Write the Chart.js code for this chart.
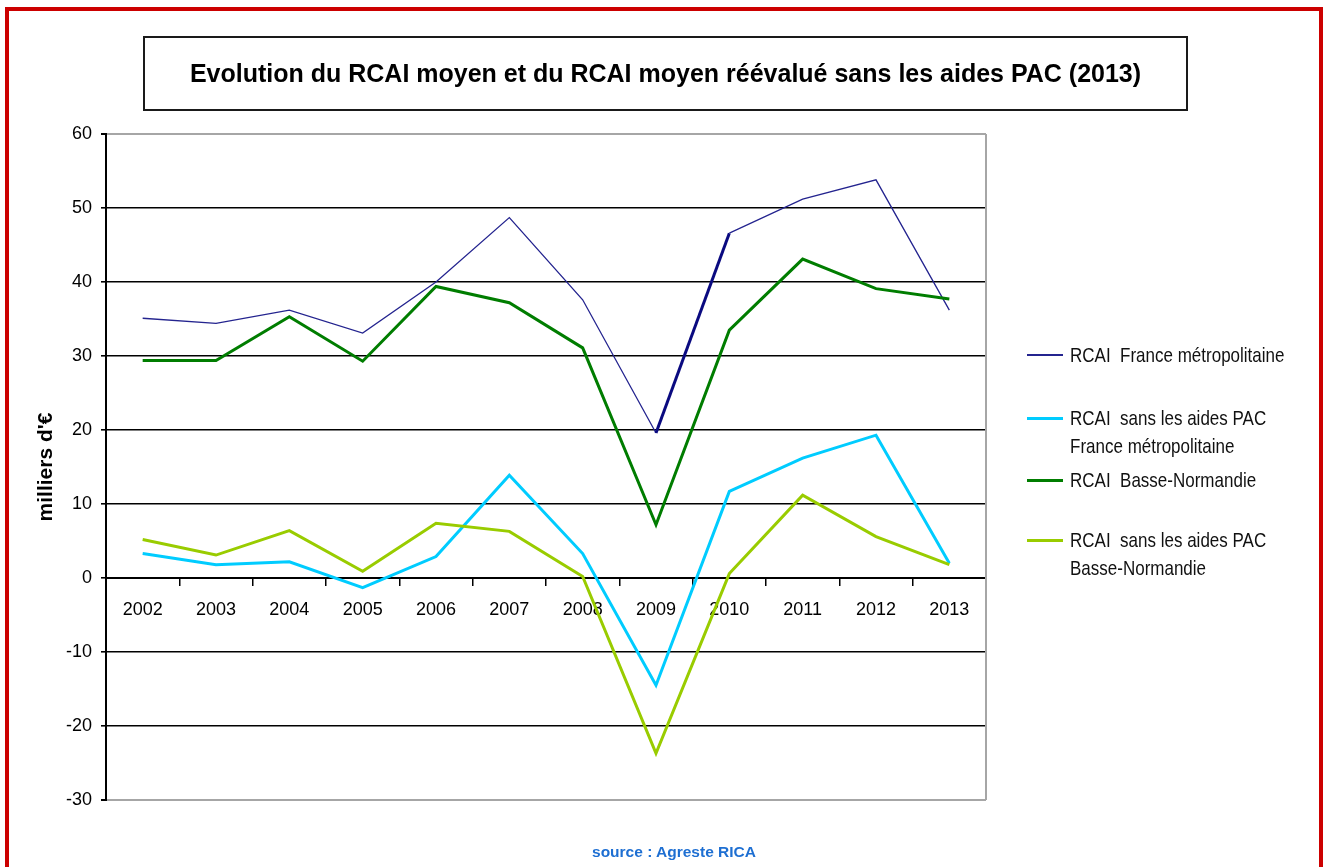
<!DOCTYPE html>
<html><head><meta charset="utf-8">
<script src="https://cdn.jsdelivr.net/npm/chart.js@4/dist/chart.umd.min.js"></script>
<style>
html,body{margin:0;padding:0;background:#fff;overflow:hidden;width:1324px;height:867px;}
#frame{position:absolute;left:5px;top:7px;width:1318px;height:900px;border:4px solid #cc0000;box-sizing:border-box;}
#c{position:absolute;left:0;top:0;}
#title{position:absolute;left:143px;top:36px;width:1045px;height:75px;border:2px solid #1a1a1a;box-sizing:border-box;display:flex;align-items:center;justify-content:center;font:bold 25px 'Liberation Sans',Arial,sans-serif;color:#000;}
.entry{position:absolute;left:1027px;font:17px 'Liberation Sans',Arial,sans-serif;line-height:28px;color:#111;white-space:nowrap;}
.entry .sw{position:absolute;left:0;top:14px;width:36px;}
.entry .tx{position:absolute;left:43px;top:0;transform:scaleY(1.15);transform-origin:0 14px;line-height:25px;}
#source{position:absolute;left:574px;top:843px;width:200px;text-align:center;font:bold 15.5px 'Liberation Sans',Arial,sans-serif;color:#1e6fd2;}
</style></head>
<body>
<div id="frame"></div>
<canvas id="c" width="1324" height="867"></canvas>
<div id="title">Evolution du RCAI moyen et du RCAI moyen réévalué sans les aides PAC (2013)</div>
<div id="legend"></div>
<div id="source">source : Agreste RICA</div>
<script>
const years = ['2002','2003','2004','2005','2006','2007','2008','2009','2010','2011','2012','2013'];
const rcaiFrance        = [35.1, 34.4, 36.2, 33.1, 40.0, 48.7, 37.6, 19.6, 46.6, 51.2, 53.8, 36.2];
const rcaiSansPacFrance = [3.3, 1.8, 2.2, -1.3, 2.9, 13.9, 3.3, -14.5, 11.7, 16.2, 19.3, 2.0];
const rcaiBasseNormandie = [29.4, 29.4, 35.3, 29.3, 39.4, 37.2, 31.1, 7.2, 33.5, 43.1, 39.1, 37.7];
const rcaiSansPacBasseNormandie = [5.2, 3.1, 6.4, 0.9, 7.4, 6.3, 0.2, -23.7, 0.6, 11.2, 5.6, 1.8];
const seriesNames = [
  ['RCAI  France métropolitaine'],
  ['RCAI  sans les aides PAC', 'France métropolitaine'],
  ['RCAI  Basse-Normandie'],
  ['RCAI  sans les aides PAC', 'Basse-Normandie']
];
const yMin = -30, yMax = 60, yStep = 10;
const yTitle = "milliers d'€";

const seriesData = [rcaiFrance, rcaiSansPacFrance, rcaiBasseNormandie, rcaiSansPacBasseNormandie];
const colors = ['#24248f', '#00ccff', '#007d00', '#99cc00'];
const widths = [1.3, 3, 3, 3];
const legendTops = [341, 404, 466, 526];
const legendSwatchW = [2, 3, 3, 3];

const tickFont = {family: "'Liberation Sans',Arial,sans-serif", size: 18};

const datasets = seriesData.map((d, i) => {
  const ds = {
    label: seriesNames[i].join(' '),
    data: d,
    borderColor: colors[i],
    borderWidth: widths[i],
    pointRadius: 0,
    tension: 0,
    fill: false,
    order: 4 - i
  };
  if (i === 0) {
    ds.segment = {
      borderWidth: ctx => (ctx.p0DataIndex === 7 ? 3 : undefined),
      borderColor: ctx => (ctx.p0DataIndex === 7 ? '#0a0a80' : undefined)
    };
  }
  return ds;
});

const rightBorder = {
  id: 'rightBorder',
  beforeDatasetsDraw(chart) {
    const {ctx, chartArea: a} = chart;
    ctx.save();
    ctx.strokeStyle = '#a6a6a6';
    ctx.lineWidth = 2;
    ctx.beginPath();
    ctx.moveTo(a.right, a.top);
    ctx.lineTo(a.right, a.bottom);
    ctx.stroke();
    ctx.restore();
  }
};

new Chart(document.getElementById('c'), {
  type: 'line',
  data: {labels: years, datasets},
  options: {
    responsive: false,
    animation: false,
    layout: {padding: {left: 0, right: 338, top: 134, bottom: 67}},
    plugins: {legend: {display: false}, title: {display: false}, tooltip: {enabled: false}},
    scales: {
      x: {
        type: 'category',
        position: {y: 0},
        offset: true,
        grid: {offset: true, drawOnChartArea: false, drawTicks: true, tickLength: 7, color: '#000', lineWidth: 1.5},
        border: {display: true, color: '#000', width: 2},
        ticks: {padding: 14, color: '#000', font: tickFont, maxRotation: 0, autoSkip: false}
      },
      y: {
        min: yMin, max: yMax,
        ticks: {stepSize: yStep, padding: 9, color: '#000', font: tickFont},
        grid: {
          color: c => (c.tick && (c.tick.value === yMax || c.tick.value === yMin)) ? '#a6a6a6' : '#000',
          lineWidth: c => (c.tick && (c.tick.value === yMax || c.tick.value === yMin)) ? 2 : 1.6,
          tickColor: '#000', tickLength: 5, drawTicks: true
        },
        border: {display: true, color: '#000', width: 2},
        title: {display: true, text: yTitle, color: '#000',
          font: {family: "'Liberation Sans',Arial,sans-serif", size: 21, weight: 'bold'},
          padding: {top: 34, bottom: 0}},
        afterFit(s) { s.width = 106; }
      }
    }
  },
  plugins: [rightBorder]
});

const legend = document.getElementById('legend');
seriesNames.forEach((lines, i) => {
  const e = document.createElement('div');
  e.className = 'entry';
  e.style.top = legendTops[i] + 'px';
  const sw = document.createElement('div');
  sw.className = 'sw';
  sw.style.height = legendSwatchW[i] + 'px';
  sw.style.marginTop = (-legendSwatchW[i] / 2) + 'px';
  sw.style.background = colors[i];
  const tx = document.createElement('div');
  tx.className = 'tx';
  tx.style.top = '1.5px';
  tx.innerHTML = lines.map(l => l.replace(/  /g, '&nbsp; ')).join('<br>');
  e.appendChild(sw); e.appendChild(tx);
  legend.appendChild(e);
});
</script>
</body></html>
